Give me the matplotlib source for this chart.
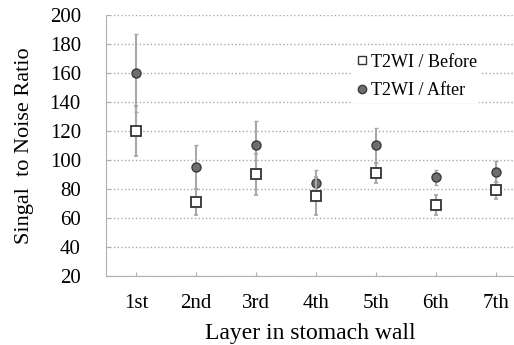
import numpy as np
import matplotlib.pyplot as plt
from matplotlib.lines import Line2D

plt.rcParams['font.family'] = ['Liberation Serif', 'DejaVu Serif']

layers = ['1st', '2nd', '3rd', '4th', '5th', '6th', '7th']
before = [120, 71, 90, 75, 91, 69, 79]
before_err = [17, 9, 14, 13, 7, 7, 6]
after = [160, 95, 110, 84, 110, 88, 92]
after_err = [27, 15, 17, 9, 12, 5, 7]

x = np.arange(1, len(layers) + 1)

fig = plt.figure(figsize=(5.14, 3.45), dpi=100)
ax = fig.add_axes([0.206, 0.2, 0.794, 0.757])

ax.errorbar(x, after, yerr=after_err, fmt='o', ms=6.5, mfc='#6e6e6e', mec='#3a3a3a',
            mew=1, ecolor='#a8a8a8', elinewidth=1.5, capsize=1.5, zorder=3)
ax.errorbar(x, before, yerr=before_err, fmt='s', ms=6.5, mfc='white', mec='#333333',
            mew=1.3, ecolor='#a8a8a8', elinewidth=1.5, capsize=1.5, zorder=4)

ax.set_xlim(0.5, 7.3)
ax.set_ylim(20, 200)
ax.set_yticks(range(20, 201, 20))
ax.set_xticks(x)
ax.set_xticklabels(layers)
ax.yaxis.grid(True, linestyle=':', color='#aaaaaa', linewidth=1)
ax.set_axisbelow(True)
for s in ['top', 'right']:
    ax.spines[s].set_visible(False)
for s in ['left', 'bottom']:
    ax.spines[s].set_color('#b0b0b0')
ax.tick_params(direction='in', length=3, color='#b0b0b0', labelsize=15)
ax.tick_params(axis='y', pad=18)
ax.tick_params(axis='x', pad=13)

ax.set_xlabel('Layer in stomach wall', fontsize=17, labelpad=7)
ax.set_ylabel('Singal  to Noise Ratio', fontsize=16, labelpad=11)

handles = [
    Line2D([], [], ls='', marker='s', ms=6, mfc='white', mec='#333333', mew=1),
    Line2D([], [], ls='', marker='o', ms=6, mfc='#6e6e6e', mec='#3a3a3a', mew=1),
]
leg = ax.legend(handles, ['T2WI / Before', 'T2WI / After'], loc='upper right',
                bbox_to_anchor=(0.94, 0.90), frameon=True, fontsize=13,
                handletextpad=0.1, handlelength=0.8, borderpad=0.2, labelspacing=0.65)
leg.get_frame().set_edgecolor('none')
leg.get_frame().set_facecolor('white')
leg.get_frame().set_alpha(1)

fig.savefig('out.png', dpi=100)
